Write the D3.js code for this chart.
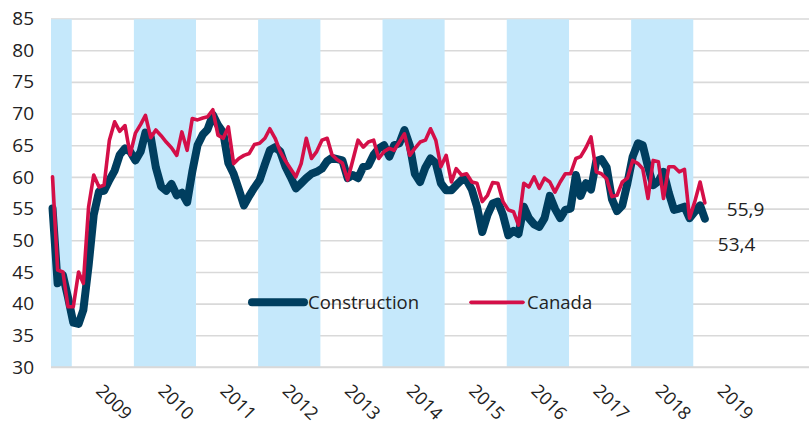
<!DOCTYPE html>
<html>
<head>
<meta charset="utf-8">
<script src="https://cdn.jsdelivr.net/npm/d3@7/dist/d3.min.js"></script>
<style>
  html, body { margin: 0; padding: 0; background: #fff; }
  svg { display: block; }
  text { font-family: "Open Sans", "Noto Sans", sans-serif; fill: #222; }
</style>
</head>
<body>
<svg id="chart" width="809" height="424"></svg>
<script>
// ---- data (monthly, Sep 2008 .. Mar 2019) ----
const startYear = 2008, startMonth = 8; // September 2008
const construction = [
  55.0, 43.2, 44.5, 41.0, 37.0, 36.8, 39.0, 46.0, 54.0, 57.7, 57.8, 59.5,
  61.0, 63.5, 64.5, 64.0, 62.6, 64.0, 67.0, 66.3, 61.5, 58.5, 57.8, 58.9,
  57.1, 57.5, 56.0, 60.8, 65.0, 66.7, 67.5, 69.8, 68.2, 67.0, 62.2, 60.5,
  58.0, 55.5, 57.0, 58.3, 59.5, 62.0, 64.2, 64.7, 64.0, 61.6, 60.0, 58.2,
  59.0, 59.8, 60.5, 60.8, 61.3, 62.5, 63.0, 62.8, 62.6, 59.8, 60.3, 59.8,
  61.6, 61.8, 63.5, 64.5, 65.0, 63.2, 65.0, 65.3, 67.4, 65.0, 60.5, 59.2,
  61.5, 62.9, 62.2, 59.0, 57.9, 57.9, 58.7, 59.5, 59.5, 58.0, 55.3, 51.3,
  54.0, 55.8, 56.1, 54.0, 50.8, 51.5, 51.0, 55.3, 53.5, 52.5, 52.1, 53.5,
  57.0, 55.0, 53.5, 54.8, 55.0, 60.3, 57.0, 59.0, 58.0, 62.5, 62.8, 61.5,
  56.5, 54.6, 55.5, 59.0, 63.2, 65.3, 65.0, 61.6, 58.7, 59.3, 60.8, 57.5,
  54.8, 55.0, 55.3, 53.5, 54.5, 55.5, 53.4
];
const canada = [
  60.0, 45.3, 45.0, 39.5, 39.5, 45.0, 43.2, 55.3, 60.3, 58.4, 58.7, 65.8,
  68.7, 67.2, 68.1, 63.5, 66.9, 68.3, 69.7, 66.2, 67.4, 66.5, 65.5, 64.6,
  63.4, 67.1, 64.2, 69.2, 69.0, 69.3, 69.5, 70.6, 66.6, 66.1, 67.9, 62.1,
  62.9, 63.4, 63.7, 65.1, 65.3, 66.1, 67.6, 66.1, 64.0, 62.5, 61.3, 60.0,
  62.1, 66.1, 62.9, 64.0, 65.8, 66.1, 63.5, 62.7, 62.2, 59.5, 62.6, 65.8,
  64.7, 65.5, 65.8, 62.9, 64.0, 64.5, 64.2, 65.5, 66.8, 63.4, 64.5, 65.5,
  65.8, 67.6, 65.8, 61.6, 63.4, 59.2, 61.3, 60.3, 60.5, 59.2, 59.0, 56.1,
  57.1, 59.1, 59.0, 56.1, 54.8, 54.5, 52.4, 59.0, 58.4, 60.0, 58.2, 59.8,
  59.2, 57.6, 59.2, 60.5, 60.5, 62.9, 63.2, 64.6, 66.3, 60.8, 60.5, 59.7,
  56.9, 57.1, 59.2, 59.8, 62.6, 62.1, 61.3, 56.6, 62.6, 62.4, 56.6, 61.6,
  61.6, 60.8, 61.2, 53.5, 56.1, 59.2, 55.9
];
const seriesNames = ["Construction", "Canada"];
const yTicks = [30, 35, 40, 45, 50, 55, 60, 65, 70, 75, 80, 85];
const xLabels = ["2009", "2010", "2011", "2012", "2013", "2014", "2015", "2016", "2017", "2018", "2019"];
const shadedYears = [2008, 2010, 2012, 2014, 2016, 2018];

// ---- styles ----
const colNavy = "#003e5f";
const colRed = "#d40f48";
const colBand = "#c5e8fb";
const colGrid = "#d9d9d9";

const svg = d3.select("#chart");
const mLeft = 51, mRight = 809, mTop = 18.5, mBottom = 367;

const dates = construction.map((_, i) => new Date(startYear, startMonth + i, 10));
const domainStart = new Date(2008, 8, 1);
const domainEnd = new Date(2020, 10, 11);

const x = d3.scaleTime().domain([domainStart, domainEnd]).range([mLeft, mRight]);
const y = d3.scaleLinear().domain([30, 85]).range([mBottom, mTop]);

// gridlines
const grid = svg.append("g").attr("transform", `translate(${mLeft},0)`)
  .call(d3.axisLeft(y).tickValues(yTicks).tickSize(-(mRight - mLeft)).tickFormat(""));
grid.select(".domain").remove();
grid.selectAll(".tick line").attr("stroke", colGrid).attr("stroke-width", 1.6);

// shaded bands
svg.append("g").selectAll("rect").data(shadedYears).join("rect")
  .attr("x", d => x(d3.max([new Date(d, 0, 1), domainStart])))
  .attr("width", d => x(new Date(d + 1, 0, 1)) - x(d3.max([new Date(d, 0, 1), domainStart])))
  .attr("y", y(85) + 0.8)
  .attr("height", y(30) - y(85) - 0.8)
  .attr("fill", colBand);

// bottom axis line
svg.append("line").attr("x1", mLeft).attr("x2", mRight)
  .attr("y1", y(30)).attr("y2", y(30))
  .attr("stroke", colGrid).attr("stroke-width", 1.6);

// y tick labels
const yAxis = svg.append("g").attr("transform", `translate(${mLeft},0)`)
  .call(d3.axisLeft(y).tickValues(yTicks).tickSize(0).tickPadding(17));
yAxis.select(".domain").remove();
yAxis.selectAll("text").attr("font-size", 19).attr("fill", "#222")
  .style("font-family", '"Open Sans", sans-serif');

// x labels (rotated)
const xAxis = svg.append("g").attr("transform", `translate(0,${y(30)})`)
  .call(d3.axisBottom(x).tickValues(xLabels.map(s => new Date(+s, 6, 1)))
    .tickFormat((d, i) => xLabels[i]).tickSize(0));
xAxis.select(".domain").remove();
xAxis.selectAll("text")
  .attr("x", 0).attr("y", 0).attr("dy", 0)
  .attr("text-anchor", "start")
  .attr("transform", "translate(-8,25) rotate(45)")
  .attr("font-size", 18).attr("fill", "#222")
  .style("font-family", '"Open Sans", sans-serif');

// lines
const line = d3.line().x((d, i) => x(dates[i])).y(d => y(d));
svg.append("path").datum(construction)
  .attr("d", line).attr("fill", "none").attr("stroke", colNavy)
  .attr("stroke-width", 8).attr("stroke-linejoin", "round").attr("stroke-linecap", "round");
svg.append("path").datum(canada)
  .attr("d", line).attr("fill", "none").attr("stroke", colRed)
  .attr("stroke-width", 3.6).attr("stroke-linejoin", "round").attr("stroke-linecap", "round");

// legend
const legendY = y(40.2);
const legend = [
  {name: seriesNames[0], color: colNavy, w: 8, x0: 252, x1: 304, tx: 308},
  {name: seriesNames[1], color: colRed, w: 3.6, x0: 471, x1: 523, tx: 527}
];
const lg = svg.append("g").selectAll("g").data(legend).join("g");
lg.append("line").attr("x1", d => d.x0).attr("x2", d => d.x1)
  .attr("y1", legendY).attr("y2", legendY)
  .attr("stroke", d => d.color).attr("stroke-width", d => d.w).attr("stroke-linecap", "round");
lg.append("text").attr("x", d => d.tx).attr("y", legendY).attr("dy", "0.35em")
  .attr("font-size", 18.5).text(d => d.name);

// end value labels
const fmt = v => v.toFixed(1).replace(".", ",");
const lastI = construction.length - 1;
svg.append("text").attr("x", x(dates[lastI]) + 22).attr("y", y(canada[lastI]) + 6.5)
  .attr("dy", "0.35em").attr("font-size", 19).text(fmt(canada[lastI]));
svg.append("text").attr("x", x(dates[lastI]) + 13).attr("y", y(construction[lastI]) + 26)
  .attr("dy", "0.35em").attr("font-size", 19).text(fmt(construction[lastI]));
</script>
</body>
</html>
